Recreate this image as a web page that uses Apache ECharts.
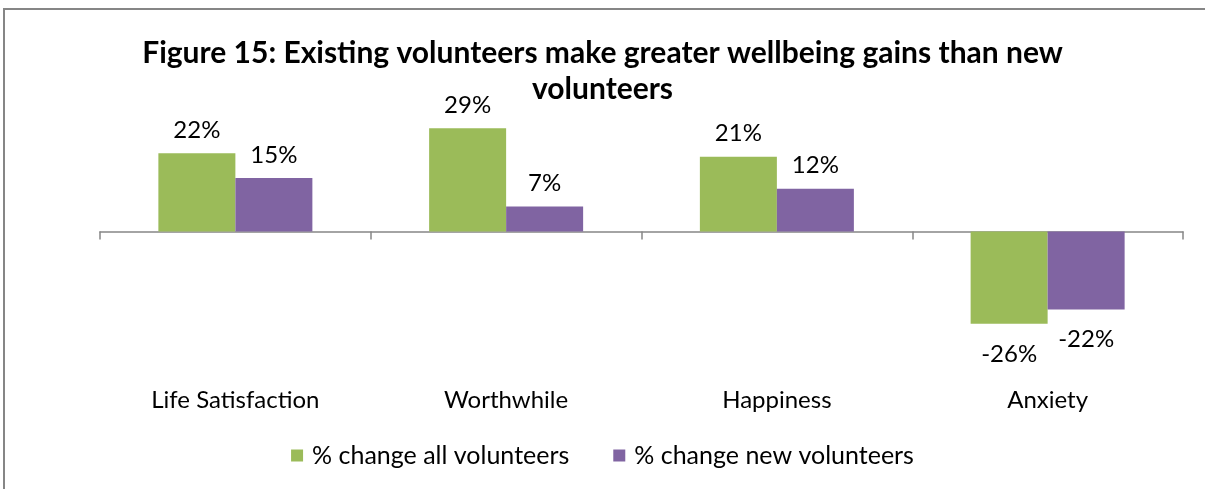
<!DOCTYPE html>
<html>
<head>
<meta charset="utf-8">
<script src="https://cdn.jsdelivr.net/npm/echarts@6/dist/echarts.min.js"></script>
<style>
  html, body { margin: 0; padding: 0; background: #fff; }
  #chart { width: 1205px; height: 489px; }
</style>
</head>
<body>
<div id="chart"></div>
<script>
// Wellbeing measures and percentage change per volunteer group
const categories = ['Life Satisfaction', 'Worthwhile', 'Happiness', 'Anxiety'];
const allVolunteers = [22, 29, 21, -26];
const newVolunteers = [15, 7, 12, -22];
const seriesNames = ['% change all volunteers', '% change new volunteers'];
const titleText = 'Figure 15: Existing volunteers make greater wellbeing gains than new\nvolunteers';

const FONT = 'Lato';
const GREEN = '#9BBB59';
const PURPLE = '#8064A2';

const labelOpt = {
  show: true,
  fontFamily: FONT,
  fontSize: 24,
  color: '#000',
  formatter: p => p.value + '%'
};

function makeData(values) {
  return values.map(v => ({
    value: v,
    label: v < 0 ? { position: 'bottom', distance: 18 } : { position: 'top', distance: 11 }
  }));
}

const chart = echarts.init(document.getElementById('chart'), null, { renderer: 'canvas' });
chart.setOption({
  animation: false,
  backgroundColor: '#fff',
  graphic: [{
    type: 'rect',
    shape: { x: 4, y: 9, width: 1220, height: 520 },
    style: { fill: 'none', stroke: '#868686', lineWidth: 2 },
    silent: true
  }],
  title: {
    text: titleText,
    left: 'center',
    top: 30,
    textStyle: {
      fontFamily: FONT,
      fontWeight: 'bold',
      fontSize: 30,
      lineHeight: 36,
      color: '#000'
    }
  },
  legend: {
    top: 438,
    left: 'center',
    itemWidth: 12,
    itemHeight: 12,
    itemGap: 44,
    icon: 'rect',
    textStyle: { fontFamily: FONT, fontSize: 25, color: '#000', padding: [0, 0, 0, 4] },
    data: seriesNames
  },
  grid: {
    left: 100,
    right: 22,
    top: 107,
    height: 231,
    outerBoundsMode: 'none',
    containLabel: false
  },
  xAxis: [
    {
      // baseline through zero with category boundary ticks
      type: 'category',
      data: categories,
      axisLine: { onZero: true, lineStyle: { color: '#868686', width: 1.5 } },
      axisTick: { show: true, length: 8, lineStyle: { color: '#868686', width: 1.5 } },
      axisLabel: { show: false }
    },
    {
      // category names along the bottom of the plot
      type: 'category',
      data: categories,
      position: 'bottom',
      axisLine: { show: false, onZero: false },
      axisTick: { show: false },
      axisLabel: { margin: 50, fontFamily: FONT, fontSize: 24, color: '#000' }
    }
  ],
  yAxis: {
    type: 'value',
    min: -30,
    max: 35,
    show: false,
    splitLine: { show: false }
  },
  series: [
    {
      name: seriesNames[0],
      type: 'bar',
      data: makeData(allVolunteers),
      barWidth: 77,
      barGap: '0%',
      itemStyle: { color: GREEN },
      label: labelOpt
    },
    {
      name: seriesNames[1],
      type: 'bar',
      data: makeData(newVolunteers),
      barWidth: 77,
      barGap: '0%',
      itemStyle: { color: PURPLE },
      label: labelOpt
    }
  ]
});
</script>
</body>
</html>
